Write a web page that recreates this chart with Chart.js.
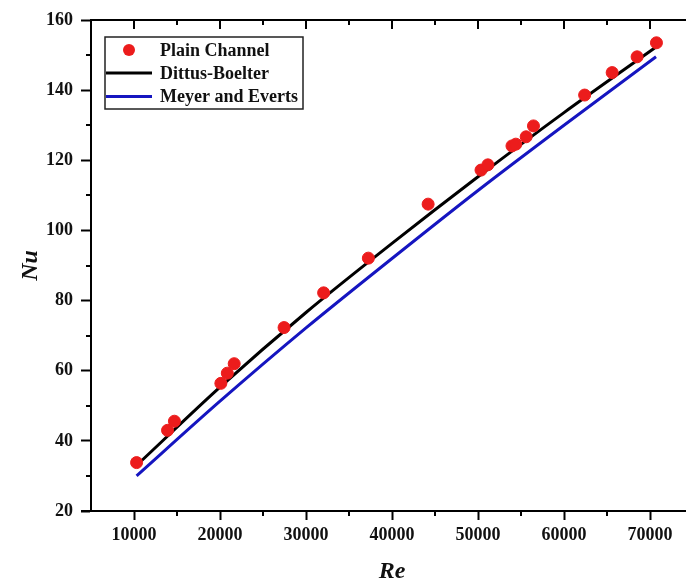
<!DOCTYPE html>
<html>
<head>
<meta charset="utf-8">
<script src="https://cdn.jsdelivr.net/npm/chart.js@4.4.1/dist/chart.umd.min.js"></script>
<style>
  html, body { margin: 0; padding: 0; background: #fff; overflow: hidden; }
  #wrap { width: 700px; height: 586px; }
</style>
</head>
<body>
<div id="wrap"><canvas id="chart" width="700" height="586"></canvas></div>
<script>
// Plain channel measurements (Re, Nu)
const plainRe = [10300, 13900, 14700, 20100, 20850, 21650, 27450, 32050, 37250, 44200,
                 50350, 51150, 53950, 54400, 55600, 56450, 62400, 65600, 68500, 70750];
const plainNu = [33.8, 43.0, 45.6, 56.4, 59.3, 62.0, 72.3, 82.2, 92.1, 107.5,
                 117.2, 118.7, 124.1, 124.6, 126.7, 129.8, 138.6, 145.0, 149.5, 153.5];

// Correlation curves
const curveRe = [10300, 20000, 30000, 40000, 50000, 60000, 70700];
const dittusNu = [33.0, 55.3, 76.6, 96.3, 115.3, 133.6, 152.3];
const meyerNu = [30.0, 51.3, 72.2, 92.0, 111.4, 130.0, 149.5];

// Axis ticks
const xTicks = [10000, 20000, 30000, 40000, 50000, 60000, 70000];
const xMinorTicks = [15000, 25000, 35000, 45000, 55000, 65000];
const yTicks = [20, 40, 60, 80, 100, 120, 140, 160];
const yMinorTicks = [30, 50, 70, 90, 110, 130, 150];

const FONT = "'Liberation Serif', 'Times New Roman', serif";

function toPoints(xs, ys) {
    return xs.map((x, i) => ({ x: x, y: ys[i] }));
}

// Minor ticks, top frame line and the boxed legend
const framePlugin = {
    id: 'frame',
    afterDraw(chart) {
        const ctx = chart.ctx;
        const xs = chart.scales.x;
        const ys = chart.scales.y;
        const a = chart.chartArea;
        ctx.save();
        ctx.strokeStyle = '#000';
        ctx.lineWidth = 2;
        ctx.beginPath();
        // top border
        ctx.moveTo(a.left - 1, a.top);
        ctx.lineTo(a.right, a.top);
        // bottom line sticks out a little to the left
        ctx.moveTo(a.left - 10, a.bottom);
        ctx.lineTo(a.left, a.bottom);
        // top ticks pointing inward
        xTicks.forEach(v => {
            const px = Math.round(xs.getPixelForValue(v));
            ctx.moveTo(px, a.top);
            ctx.lineTo(px, a.top + 9);
        });
        xMinorTicks.forEach(v => {
            const px = Math.round(xs.getPixelForValue(v));
            ctx.moveTo(px, a.top);
            ctx.lineTo(px, a.top + 5);
            ctx.moveTo(px, a.bottom);
            ctx.lineTo(px, a.bottom + 5);
        });
        yMinorTicks.forEach(v => {
            const py = Math.round(ys.getPixelForValue(v));
            ctx.moveTo(a.left, py);
            ctx.lineTo(a.left - 5, py);
        });
        ctx.stroke();

        // legend
        const bx = 105, by = 37, bw = 198, bh = 72;
        ctx.lineWidth = 1.5;
        ctx.strokeStyle = '#222';
        ctx.strokeRect(bx, by, bw, bh);
        const rows = [50, 73, 96.5];
        ctx.font = 'bold 18px ' + FONT;
        ctx.textBaseline = 'middle';
        ctx.textAlign = 'left';
        chart.data.datasets.forEach((ds, i) => {
            const ry = rows[i];
            if (ds.showLine) {
                ctx.strokeStyle = ds.borderColor;
                ctx.lineWidth = 3;
                ctx.beginPath();
                ctx.moveTo(bx + 1, ry);
                ctx.lineTo(bx + 47, ry);
                ctx.stroke();
            } else {
                ctx.fillStyle = ds.backgroundColor;
                ctx.beginPath();
                ctx.arc(bx + 24, ry, 6, 0, Math.PI * 2);
                ctx.fill();
            }
            ctx.fillStyle = '#111';
            ctx.fillText(ds.label, bx + 55, ry + 1);
        });
        ctx.restore();
    }
};

new Chart(document.getElementById('chart'), {
    type: 'scatter',
    data: {
        datasets: [
            {
                label: 'Plain Channel',
                data: toPoints(plainRe, plainNu),
                backgroundColor: '#ec1c1c',
                borderColor: '#ec1c1c',
                pointRadius: 6,
                pointHoverRadius: 6,
                showLine: false
            },
            {
                label: 'Dittus-Boelter',
                data: toPoints(curveRe, dittusNu),
                borderColor: '#000000',
                backgroundColor: '#000000',
                borderWidth: 3,
                pointRadius: 0,
                showLine: true,
                tension: 0.3
            },
            {
                label: 'Meyer and Everts',
                data: toPoints(curveRe, meyerNu),
                borderColor: '#1515c0',
                backgroundColor: '#1515c0',
                borderWidth: 3,
                pointRadius: 0,
                showLine: true,
                tension: 0.3
            }
        ]
    },
    options: {
        responsive: false,
        animation: false,
        layout: { padding: { top: 20, right: 4, left: 0, bottom: 0 } },
        plugins: {
            legend: { display: false },
            tooltip: { enabled: false }
        },
        scales: {
            x: {
                type: 'linear',
                min: 5000,
                max: 75000,
                afterBuildTicks: scale => { scale.ticks = xTicks.map(v => ({ value: v })); },
                afterFit: scale => { scale.height = 75; },
                border: { display: true, color: '#000', width: 2 },
                grid: { drawOnChartArea: false, drawTicks: true, tickLength: 9, tickWidth: 2, color: '#000' },
                ticks: {
                    color: '#111',
                    padding: 5,
                    maxRotation: 0,
                    font: { family: FONT, size: 18, weight: 'bold' },
                    callback: v => String(v)
                },
                title: {
                    display: true,
                    text: 'Re',
                    color: '#111',
                    padding: { top: 0, bottom: 0 },
                    font: { family: FONT, size: 24, weight: 'bold', style: 'italic' }
                }
            },
            y: {
                type: 'linear',
                min: 20,
                max: 160,
                afterBuildTicks: scale => { scale.ticks = yTicks.map(v => ({ value: v })); },
                afterFit: scale => { scale.width = 91; },
                border: { display: true, color: '#000', width: 2 },
                grid: { drawOnChartArea: false, drawTicks: true, tickLength: 10, tickWidth: 2, color: '#000' },
                ticks: {
                    color: '#111',
                    padding: 8,
                    font: { family: FONT, size: 18, weight: 'bold' }
                },
                title: {
                    display: true,
                    text: 'Nu',
                    color: '#111',
                    padding: { top: 16, bottom: 0 },
                    font: { family: FONT, size: 24, weight: 'bold', style: 'italic' }
                }
            }
        }
    },
    plugins: [framePlugin]
});
</script>
</body>
</html>
